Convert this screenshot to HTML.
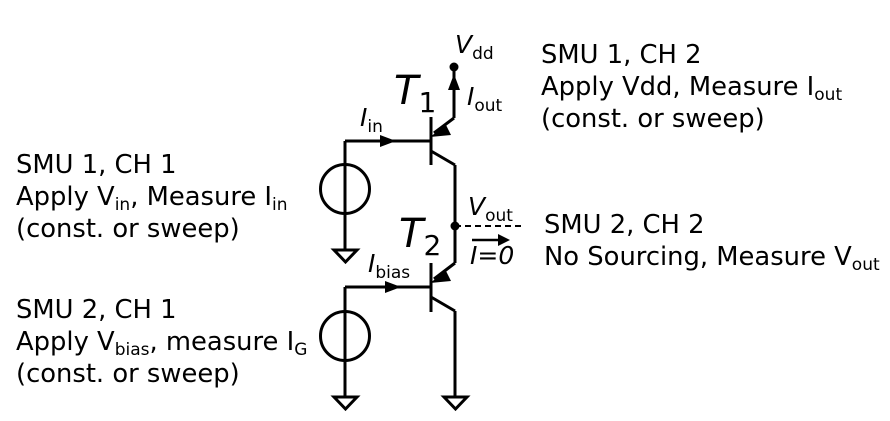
<!DOCTYPE html>
<html><head><meta charset="utf-8"><style>
html,body{margin:0;padding:0;background:#fff;}
svg{display:block;}
text{font-family:"DejaVu Sans","Liberation Sans",sans-serif;fill:#000;}
.t{font-size:25.8px;}
</style></head><body>
<svg width="890" height="421" viewBox="0 0 890 421" xmlns="http://www.w3.org/2000/svg">
<g stroke="#000" stroke-width="3" fill="none">
<line x1="454" y1="67" x2="454" y2="118"/>
<line x1="454" y1="118" x2="434" y2="133"/>
<line x1="431" y1="117" x2="431" y2="165"/>
<line x1="345" y1="141" x2="431" y2="141"/>
<line x1="431" y1="151" x2="455" y2="165"/>
<line x1="455" y1="165" x2="455" y2="263"/>
<line x1="455" y1="263" x2="434" y2="279"/>
<line x1="431" y1="263" x2="431" y2="312"/>
<line x1="345" y1="287" x2="431" y2="287"/>
<line x1="431" y1="297" x2="455" y2="311"/>
<line x1="455" y1="311" x2="455" y2="397"/>
<line x1="345" y1="141" x2="345" y2="250"/>
<circle cx="345" cy="189" r="24.5"/>
<line x1="345" y1="287" x2="345" y2="397"/>
<circle cx="345" cy="336" r="24.5"/>
<polygon points="334,250 357,250 345.5,262"/>
<polygon points="334,397 357,397 345.5,409"/>
<polygon points="444,397 467,397 455.5,409"/>
<line x1="455" y1="226" x2="522" y2="226" stroke-width="2" stroke-dasharray="6,4"/>
<line x1="472" y1="240" x2="502" y2="240" stroke-width="2.5"/>
</g>
<g fill="#000">
<circle cx="454" cy="67" r="4.5"/>
<circle cx="455" cy="226" r="4.5"/>
<polygon points="454,74 448,90 460,90"/>
<polygon points="396,141 380,135 380,147"/>
<polygon points="401,287 385,281 385,293"/>
<polygon points="430,137 446,125 451,135"/>
<polygon points="430,283 446,271 451,281"/>
<polygon points="510,240 498,234 498,246"/>
</g>
<text x="455" y="53" font-size="25" font-style="italic">V<tspan font-size="17" font-style="normal" dy="6">dd</tspan></text>
<text x="394" y="104" font-size="40" font-style="italic">T<tspan font-size="28" font-style="normal" dy="8">1</tspan></text>
<text x="467" y="105" font-size="25" font-style="italic">I<tspan font-size="17" font-style="normal" dy="6">out</tspan></text>
<text x="360" y="126" font-size="25" font-style="italic">I<tspan font-size="17" font-style="normal" dy="6">in</tspan></text>
<text x="468" y="215" font-size="25" font-style="italic">V<tspan font-size="17" font-style="normal" dy="6">out</tspan></text>
<text x="470" y="264" font-size="25" font-style="italic">I=0</text>
<text x="399" y="247" font-size="40" font-style="italic">T<tspan font-size="28" font-style="normal" dy="8">2</tspan></text>
<text x="368" y="272" font-size="25" font-style="italic">I<tspan font-size="17" font-style="normal" dy="6">bias</tspan></text>

<text class="t" x="16" y="173">SMU 1, CH 1</text>
<text class="t" x="16" y="205">Apply V<tspan font-size="17" dy="5">in</tspan><tspan dy="-5">, Measure I</tspan><tspan font-size="17" dy="5">in</tspan></text>
<text class="t" x="16" y="237">(const. or sweep)</text>
<text class="t" x="16" y="318">SMU 2, CH 1</text>
<text class="t" x="16" y="350">Apply V<tspan font-size="17" dy="5">bias</tspan><tspan dy="-5">, measure I</tspan><tspan font-size="17" dy="5">G</tspan></text>
<text class="t" x="16" y="382">(const. or sweep)</text>
<text class="t" x="541" y="63">SMU 1, CH 2</text>
<text class="t" x="541" y="95">Apply Vdd, Measure I<tspan font-size="17" dy="5">out</tspan></text>
<text class="t" x="541" y="127">(const. or sweep)</text>
<text class="t" x="544" y="233">SMU 2, CH 2</text>
<text class="t" x="544" y="265">No Sourcing, Measure V<tspan font-size="17" dy="5">out</tspan></text>
</svg>
</body></html>
